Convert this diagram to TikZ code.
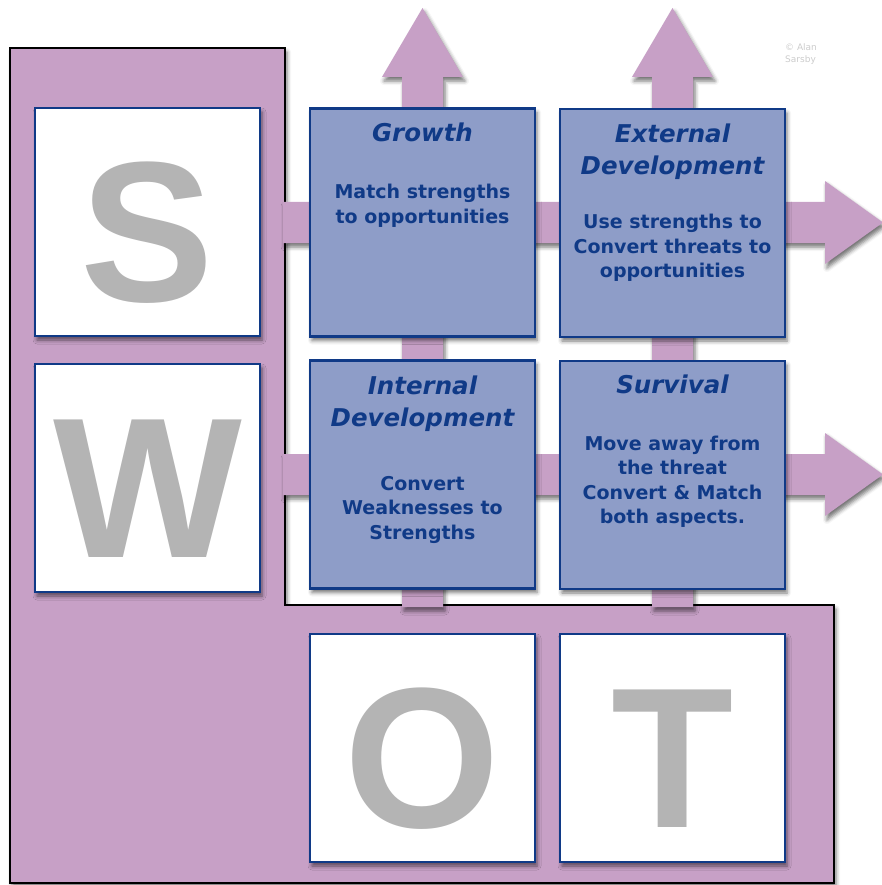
\documentclass[tikz,border=0pt]{standalone}
\usepackage{fontspec}
\setmainfont{DejaVu Sans}
\newfontfamily\letterfont{Liberation Sans}
\usetikzlibrary{shadows.blur,positioning}

\definecolor{swotpurple}{RGB}{199,160,198}
\definecolor{swotblue}{RGB}{142,157,200}
\definecolor{swotnavy}{RGB}{16,58,135}
\definecolor{swotgrey}{RGB}{180,180,180}

\begin{document}
\begin{tikzpicture}[
        x=1pt, y=-1pt,
        dropshade/.style={blur shadow={shadow xshift=2pt,shadow yshift=-4pt,shadow blur radius=4pt,shadow opacity=55}},
        pipe/.style={fill=swotpurple,dropshade},
        lettercard/.style={rectangle,draw=swotnavy,line width=2.5pt,fill=white,minimum width=225pt,minimum height=228pt,inner sep=0pt,dropshade,
            font=\letterfont\bfseries\fontsize{200}{200}\selectfont,text=swotgrey,text height=158pt,text depth=0pt},
        strategy/.style={rectangle,draw=swotnavy,line width=2.5pt,fill=swotblue,minimum width=225pt,minimum height=228pt,inner sep=0pt,dropshade},
        boxtitle/.style={anchor=base,align=center,text=swotnavy,font=\bfseries\itshape\fontsize{24.5}{32}\selectfont},
        boxtext/.style={anchor=base,align=center,text=swotnavy,font=\bfseries\fontsize{19}{24.5}\selectfont},
        credit/.style={anchor=north west,align=left,inner sep=0pt,text=black!20,font=\fontsize{9}{12}\selectfont}
    ]
        \useasboundingbox (0,0) rectangle (881,885);

        % Frame
        \path[fill=swotpurple,draw=black,line width=1.5pt,dropshade]
            (10,48) -- (285,48) -- (285,605) -- (834,605) -- (834,883) -- (10,883) -- cycle;

        % Pipes and arrows
        \path[pipe] (402,607) -- (402,77) -- (382,77) -- (422.5,8) -- (463,77) -- (443,77) -- (443,607) -- cycle;
        \path[pipe] (652,607) -- (652,77) -- (632,77) -- (672.5,8) -- (713,77) -- (693,77) -- (693,607) -- cycle;
        \path[pipe] (283,202) -- (825,202) -- (825,181) -- (883,222.5) -- (825,264) -- (825,243) -- (283,243) -- cycle;
        \path[pipe] (283,454) -- (825,454) -- (825,433) -- (883,474.5) -- (825,516) -- (825,495) -- (283,495) -- cycle;

        % Letters
        \node[lettercard] (S) at (147.5,222) {S};
        \node[lettercard] (W) at (147.5,478) {W};
        \node[lettercard] (O) at (422.5,748) {O};
        \node[lettercard] (T) at (672.5,748) {T};

        % Strategies (base = last line)
        \node[strategy] (growth) at (422.5,222.5) {};
        \node[strategy] (extdev) at (672.5,223) {};
        \node[strategy] (intdev) at (422.5,474.5) {};
        \node[strategy] (survival) at (672.5,475) {};

        \node[boxtitle] (growth-t) at ([yshift=-34pt]growth.north) {Growth};
        \node[boxtext] (growth-b) at ([yshift=-116pt]growth.north) {Match strengths\\to opportunities};
        \node[boxtitle] (extdev-t) at ([yshift=-67pt]extdev.north) {External\\Development};
        \node[boxtext] (extdev-b) at ([yshift=-170pt]extdev.north) {Use strengths to\\Convert threats to\\opportunities};
        \node[boxtitle] (intdev-t) at ([yshift=-67pt]intdev.north) {Internal\\Development};
        \node[boxtext] (intdev-b) at ([yshift=-180pt]intdev.north) {Convert\\Weaknesses to\\Strengths};
        \node[boxtitle] (survival-t) at ([yshift=-34pt]survival.north) {Survival};
        \node[boxtext] (survival-b) at ([yshift=-164pt]survival.north) {Move away from\\the threat\\Convert \& Match\\both aspects.};

        \node[credit] (copy) at (785,43) {\copyright\ Alan\\Sarsby};
    \end{tikzpicture}
\end{document}
